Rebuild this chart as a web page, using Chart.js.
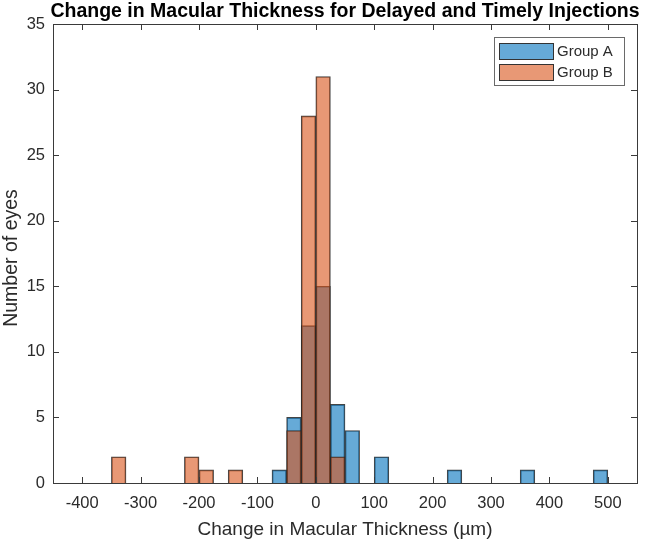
<!DOCTYPE html>
<html>
<head>
<meta charset="utf-8">
<script src="https://cdn.jsdelivr.net/npm/chart.js@4.4.1/dist/chart.umd.min.js"></script>
<style>
  body { margin: 0; background: #fff; }
  #wrap { width: 645px; height: 542px; }
</style>
</head>
<body>
<div id="wrap"><canvas id="canvas" width="645" height="542"></canvas></div>
<script>
// histogram bins, left edges (um), width 25
var binWidth = 25;
var groupABins = [-75, -50, -25, 0, 25, 50, 100, 225, 350, 475];
var groupACounts = [1, 5, 12, 15, 6, 4, 2, 1, 1, 1];
var groupBBins = [-350, -225, -200, -150, -50, -25, 0, 25];
var groupBCounts = [2, 2, 1, 1, 4, 28, 31, 2];

var xTicks = [-400, -300, -200, -100, 0, 100, 200, 300, 400, 500];
var yTicks = [0, 5, 10, 15, 20, 25, 30, 35];

var titleText = 'Change in Macular Thickness for Delayed and Timely Injections';
var xTitle = 'Change in Macular Thickness (\u00b5m)';
var yTitle = 'Number of eyes';

function toPoints(bins, counts) {
	var pts = [];
	for (var i = 0; i < bins.length; i++) {
		pts.push({ x: bins[i] + binWidth / 2, y: counts[i] });
	}
	return pts;
}

var axisColor = '#3a3a3a';
var textColor = '#2b2b2b';
var fontFam = '"Liberation Sans", Arial, sans-serif';

// matlab style box, inward ticks, titles and legend
var matlabBox = {
	id: 'matlabBox',
	afterDraw: function(chart) {
		var c = chart.ctx;
		var a = chart.chartArea;
		var xs = chart.scales.x, ys = chart.scales.y;
		c.save();
		c.strokeStyle = axisColor;
		c.lineWidth = 1;
		c.strokeRect(Math.round(a.left) + 0.5, Math.round(a.top) + 0.5,
			Math.round(a.right - a.left), Math.round(a.bottom - a.top));
		c.beginPath();
		xTicks.forEach(function(v) {
			var px = Math.round(xs.getPixelForValue(v)) + 0.5;
			c.moveTo(px, a.bottom); c.lineTo(px, a.bottom - 6);
			c.moveTo(px, a.top); c.lineTo(px, a.top + 6);
		});
		yTicks.forEach(function(v) {
			var py = Math.round(ys.getPixelForValue(v)) + 0.5;
			c.moveTo(a.left, py); c.lineTo(a.left + 6, py);
			c.moveTo(a.right, py); c.lineTo(a.right - 6, py);
		});
		c.stroke();

		// titles
		var cx = (a.left + a.right) / 2;
		c.fillStyle = '#000';
		c.font = 'bold 19.5px ' + fontFam;
		c.textAlign = 'center';
		c.textBaseline = 'alphabetic';
		c.fillText(titleText, cx, 17);
		c.fillStyle = textColor;
		c.font = '19px ' + fontFam;
		c.fillText(xTitle, cx, 535);
		c.save();
		c.translate(17, 258);
		c.rotate(-Math.PI / 2);
		c.font = '19.5px ' + fontFam;
		c.fillText(yTitle, 0, 0);
		c.restore();

		// legend box
		var lx = 494, ly = 37, lw = 130, lh = 48;
		c.fillStyle = '#fff';
		c.fillRect(lx, ly, lw, lh);
		c.strokeStyle = '#6a6a6a';
		c.strokeRect(lx + 0.5, ly + 0.5, lw, lh);
		chart.data.datasets.forEach(function(ds, i) {
			var sy = ly + 6 + i * 21;
			c.fillStyle = ds.backgroundColor;
			c.fillRect(lx + 5, sy, 54, 16);
			c.strokeStyle = '#333';
			c.strokeRect(lx + 5.5, sy + 0.5, 54, 16);
			c.fillStyle = textColor;
			c.font = '15px ' + fontFam;
			c.textAlign = 'left';
			c.textBaseline = 'middle';
			c.fillText(ds.label, lx + 63, sy + 9);
		});
		c.restore();
	}
};

var ctx = document.getElementById('canvas');
window.myChart = new Chart(ctx, {
	type: 'bar',
	data: {
		datasets: [{
			label: 'Group A',
			data: toPoints(groupABins, groupACounts),
			backgroundColor: 'rgba(0, 114, 189, 0.6)',
			borderColor: 'rgba(35, 35, 35, 0.85)',
			borderWidth: 1,
			order: 2
		}, {
			label: 'Group B',
			data: toPoints(groupBBins, groupBCounts),
			backgroundColor: 'rgba(217, 83, 25, 0.6)',
			borderColor: 'rgba(35, 35, 35, 0.85)',
			borderWidth: 1,
			order: 1
		}]
	},
	options: {
		responsive: false,
		animation: false,
		layout: { padding: { top: 24, right: 8, left: 0, bottom: 0 } },
		datasets: { bar: { barPercentage: 1, categoryPercentage: 1, grouped: false, borderSkipped: 'start' } },
		plugins: { legend: { display: false }, tooltip: { enabled: false }, title: { display: false } },
		scales: {
			x: {
				type: 'linear',
				offset: false,
				min: -450,
				max: 550,
				afterBuildTicks: function(s) { s.ticks = xTicks.map(function(v) { return { value: v }; }); },
				afterFit: function(s) { s.height = 59; },
				grid: { display: false, drawTicks: false },
				border: { display: false },
				ticks: { color: textColor, padding: 11, maxRotation: 0, autoSkip: false,
					font: { family: fontFam, size: 16.5 } }
			},
			y: {
				min: 0,
				max: 35,
				afterBuildTicks: function(s) { s.ticks = yTicks.map(function(v) { return { value: v }; }); },
				afterFit: function(s) { s.width = 53; },
				grid: { display: false, drawTicks: false },
				border: { display: false },
				ticks: { color: textColor, padding: 8,
					font: { family: fontFam, size: 16.5 } }
			}
		}
	},
	plugins: [matlabBox]
});
</script>
</body>
</html>
